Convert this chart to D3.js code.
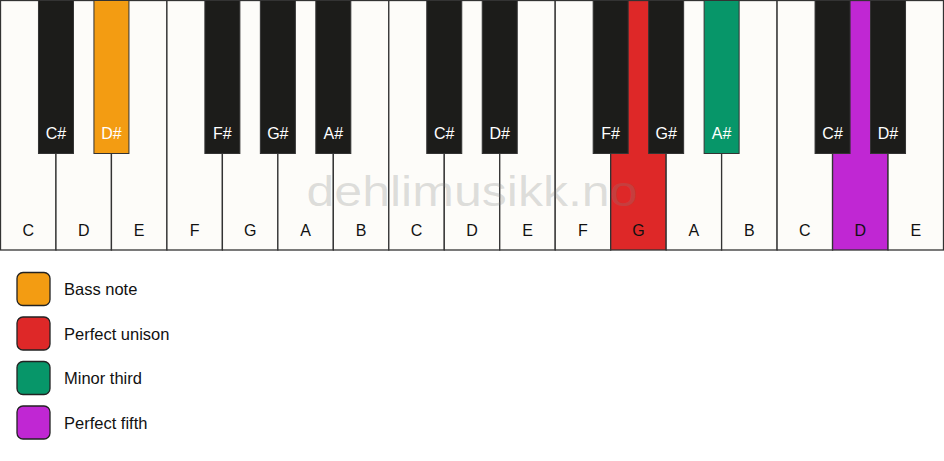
<!DOCTYPE html>
<html>
<head>
<meta charset="utf-8">
<script src="https://cdn.jsdelivr.net/npm/d3@7"></script>
<style>
  html, body { margin: 0; padding: 0; background: #ffffff; }
  svg { display: block; }
  text { font-family: "Liberation Sans", Arial, sans-serif; }
</style>
</head>
<body>
<svg id="chart" width="944" height="461"></svg>
<script>
// ---- data ----
const whiteNotes = ["C","D","E","F","G","A","B","C","D","E","F","G","A","B","C","D","E"];
const blackNotes = ["C#","D#","F#","G#","A#","C#","D#","F#","G#","A#","C#","D#"];
// index of the white key to whose right edge each black key sits
const blackAfterWhite = [0, 1, 3, 4, 5, 7, 8, 10, 11, 12, 14, 15];
// highlighted keys: kind ("white"/"black"), index, legend category
const highlightKind = ["black", "white", "black", "white"];
const highlightIndex = [1, 11, 9, 15];
const legendLabels = ["Bass note", "Perfect unison", "Minor third", "Perfect fifth"];
const legendColors = ["#f39c12", "#de2828", "#079669", "#c027d3"];
const watermark = "dehlimusikk.no";

// ---- layout ----
const W = 944, H = 461;
const svg = d3.select("#chart");
const whiteH = 250, blackH = 153, blackW = 35;

const x = d3.scaleBand().domain(d3.range(whiteNotes.length)).range([0.5, 943.5]).padding(0);
const color = d3.scaleOrdinal().domain(legendLabels).range(legendColors);

const hlWhite = new Map(), hlBlack = new Map();
highlightKind.forEach((k, i) => {
  (k === "white" ? hlWhite : hlBlack).set(highlightIndex[i], color(legendLabels[i]));
});

const keys = svg.append("g");

// white keys
const wg = keys.selectAll("g.white").data(whiteNotes).join("g").attr("class", "white");
wg.append("rect")
  .attr("x", (d, i) => x(i))
  .attr("y", 0.5)
  .attr("width", x.bandwidth())
  .attr("height", whiteH - 0.5)
  .attr("fill", (d, i) => hlWhite.get(i) || "#fdfcf9")
  .attr("stroke", "#333")
  .attr("stroke-width", 1.3);
wg.append("text")
  .attr("x", (d, i) => x(i) + x.bandwidth() / 2)
  .attr("y", 236)
  .attr("text-anchor", "middle")
  .attr("font-size", 16)
  .attr("fill", "#111")
  .text(d => d);

// watermark
svg.append("text")
  .attr("x", W / 2)
  .attr("y", 206)
  .attr("text-anchor", "middle")
  .attr("font-size", 42)
  .attr("textLength", 331)
  .attr("lengthAdjust", "spacingAndGlyphs")
  .attr("fill", "#808080")
  .attr("fill-opacity", 0.25)
  .text(watermark);

// black keys
const bg = keys.selectAll("g.black").data(blackNotes).join("g").attr("class", "black");
const bx = i => x(blackAfterWhite[i]) + x.bandwidth();
bg.append("rect")
  .attr("x", (d, i) => bx(i) - blackW / 2)
  .attr("y", 0.5)
  .attr("width", blackW)
  .attr("height", blackH)
  .attr("fill", (d, i) => hlBlack.get(i) || "#1c1c1a")
  .attr("stroke", "#333")
  .attr("stroke-width", 1);
bg.append("text")
  .attr("x", (d, i) => bx(i))
  .attr("y", 139)
  .attr("text-anchor", "middle")
  .attr("font-size", 16)
  .attr("fill", "#ffffff")
  .text(d => d);

// legend
const ly = d3.scalePoint().domain(legendLabels).range([289, 422.5]);
const lg = svg.append("g").selectAll("g").data(legendLabels).join("g")
  .attr("transform", d => `translate(0,${ly(d)})`);
lg.append("rect")
  .attr("x", 17).attr("y", -16.5)
  .attr("width", 33).attr("height", 33)
  .attr("rx", 6).attr("ry", 6)
  .attr("fill", d => color(d))
  .attr("stroke", "#222")
  .attr("stroke-width", 1.3);
lg.append("text")
  .attr("x", 64).attr("y", 6)
  .attr("font-size", 16.5)
  .attr("fill", "#111")
  .text(d => d);
</script>
</body>
</html>
